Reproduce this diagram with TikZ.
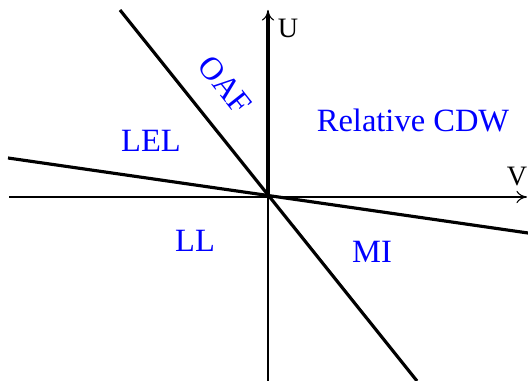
\documentclass[tikz,border=0pt]{standalone}
\usepackage{fontspec}
\setmainfont{Liberation Serif}
\usetikzlibrary{arrows.meta, positioning}

\begin{document}
\begin{tikzpicture}[x=0.02cm, y=0.02cm, >={To[length=6pt, width=7pt]},
    axis/.style={line width=0.6pt},
    phase/.style={line width=1.8pt},
    region/.style={text=blue, inner sep=0pt, font=\fontsize{18.5}{22}\selectfont},
    axlabel/.style={inner sep=0pt, font=\fontsize{16}{19}\selectfont}]
    \useasboundingbox (0,0) rectangle (528,381);
    \coordinate (o) at (268,184);
    \coordinate (vleft) at (9,184);
    \coordinate (vright) at (527,184);
    \coordinate (ubot) at (268,0);
    \coordinate (utop) at (268,371);
    \coordinate (uthick) at (268,366);
    \coordinate (aup) at (120,371);
    \coordinate (adown) at (417,0);
    \coordinate (bleft) at (8,223);
    \coordinate (bright) at (528,148);

    % axes
    \draw[axis, ->] (vleft) -- (vright);
    \draw[axis, ->] (ubot) -- (utop);
    \node[axlabel] (ulab) at (288,353) {U};
    \node[axlabel] (vlab) at (517,204) {V};

    % phase boundaries
    \draw[phase] (o) -- (uthick);
    \draw[phase] (aup) -- (adown);
    \draw[phase] (bleft) -- (bright);

    % phases
    \node[region, rotate=-51.6] (oaf) at (225,296) {OAF};
    \node[region] (lel) at (151,240) {LEL};
    \node[region] (cdw) at (413,261) {Relative CDW};
    \node[region] (ll) at (195,140) {LL};
    \node[region] (mi) at (372,129) {MI};
\end{tikzpicture}
\end{document}
